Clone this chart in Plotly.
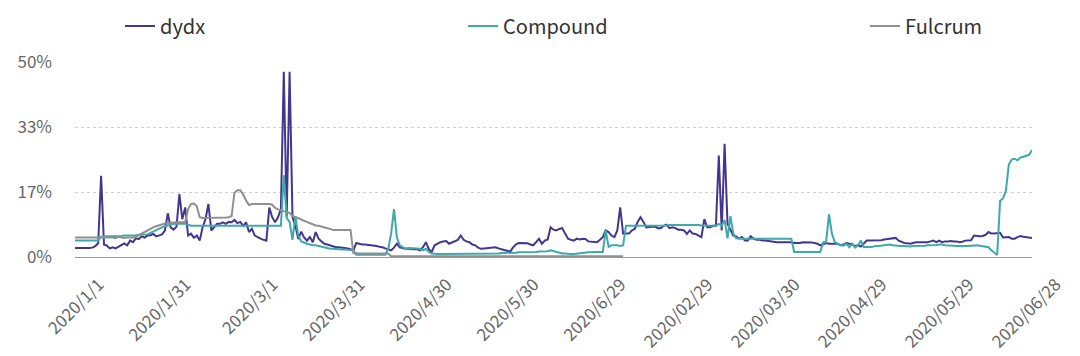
import pandas as pd
import plotly.graph_objects as go

# ---- categories (two concatenated daily periods) ----
period1 = pd.date_range("2020-01-01", "2020-06-29", freq="D")
period2 = pd.date_range("2020-01-31", "2020-06-28", freq="D")
categories = [f"{d.year}/{d.month}/{d.day}" for d in period1] + \
             [d.strftime("%Y/%m/%d") for d in period2]

tick_labels = ["2020/1/1", "2020/1/31", "2020/3/1", "2020/3/31", "2020/4/30",
               "2020/5/30", "2020/6/29", "2020/02/29", "2020/03/30",
               "2020/04/29", "2020/05/29", "2020/06/28"]
tick_index = [0, 30, 60, 90, 120, 150, 180, 210, 240, 270, 300, 330]

y_tick_values = [0, 50 / 3, 100 / 3, 50]
y_tick_labels = ["0%", "17%", "33%", "50%"]

# ---- series values (percent) ----
dydx = [
    2.3, 2.3, 2.3, 2.2, 2.3, 2.3, 2.4, 2.8, 3.5, 20.8,
    3.2, 2.9, 2.2, 2.5, 2.2, 2.7, 3.0, 3.5, 3.0, 4.2,
    3.8, 4.8, 4.6, 5.3, 5.0, 5.5, 5.6, 5.9, 5.3, 5.6,
    5.8, 6.8, 11.2, 7.6, 7.0, 7.8, 16.1, 9.7, 12.7, 5.5,
    6.0, 4.9, 5.5, 4.2, 7.6, 9.7, 13.6, 6.8, 7.6, 8.5,
    8.5, 8.9, 8.5, 9.0, 8.9, 9.5, 8.7, 9.0, 8.0, 8.9,
    6.4, 7.2, 5.5, 5.0, 4.7, 4.4, 4.2, 12.7, 10.2, 8.9,
    10.2, 12.3, 47.5, 10.3, 47.5, 10.2, 8.0, 4.6, 6.5, 5.0,
    4.2, 5.1, 3.8, 6.4, 4.7, 4.0, 3.4, 3.2, 3.0, 2.8,
    2.5, 2.5, 2.4, 2.4, 2.2, 2.0, 1.7, 3.6, 3.4, 3.2,
    3.2, 3.1, 3.0, 3.0, 2.8, 2.6, 2.5, 2.2, 1.9, 1.7,
    2.4, 3.4, 2.5, 2.3, 2.1, 2.1, 2.0, 2.0, 2.0, 1.7,
    2.5, 3.8, 2.0, 1.3, 3.0, 3.5, 3.8, 4.0, 4.1, 3.4,
    3.8, 4.2, 4.4, 5.5, 4.4, 4.0, 3.8, 3.2, 3.0, 2.4,
    2.1, 2.2, 2.3, 2.3, 2.4, 2.5, 2.2, 1.9, 1.8, 1.6,
    1.3, 2.4, 3.2, 3.6, 3.6, 3.6, 3.5, 3.2, 3.0, 3.8,
    4.7, 3.4, 4.2, 4.5, 7.6, 7.0, 6.8, 7.2, 7.4, 6.0,
    4.7, 4.4, 4.2, 4.7, 4.5, 4.7, 4.6, 4.0, 3.9, 3.8,
    3.8, 4.4, 5.1, 6.8, 6.4, 5.5, 5.1, 6.8, 12.7, 6.0,
    6.0, 6.0, 6.8, 7.2, 9.0, 10.2, 9.0, 7.6, 7.7, 7.8,
    7.8, 7.4, 7.4, 8.0, 8.3, 7.4, 7.6, 7.4, 7.0, 7.0,
    6.8, 5.9, 6.8, 6.0, 5.9, 5.5, 5.1, 9.7, 7.6, 7.6,
    8.0, 8.0, 26.0, 6.8, 29.0, 8.5, 6.8, 5.5, 5.3, 4.7,
    5.1, 4.2, 4.2, 5.3, 4.7, 4.4, 4.4, 4.2, 4.2, 4.1,
    4.0, 3.8, 3.8, 3.8, 3.8, 3.8, 3.8, 3.8, 3.6, 3.6,
    3.6, 3.8, 3.8, 3.7, 3.7, 3.6, 3.4, 3.0, 3.4, 3.6,
    3.4, 3.4, 3.4, 3.4, 3.0, 3.2, 3.6, 3.4, 3.2, 2.8,
    3.0, 2.7, 3.4, 4.2, 4.2, 4.2, 4.2, 4.2, 4.3, 4.5,
    4.6, 4.7, 4.9, 4.9, 4.2, 3.8, 3.6, 3.5, 3.4, 3.6,
    3.8, 3.8, 3.8, 3.9, 3.8, 4.0, 4.2, 3.8, 4.2, 3.8,
    4.0, 4.0, 4.1, 4.0, 4.0, 3.8, 3.9, 4.2, 4.2, 4.3,
    5.5, 5.4, 5.3, 5.4, 5.7, 6.4, 6.0, 6.0, 6.1, 6.2,
    5.0, 5.0, 5.1, 4.7, 4.7, 5.1, 5.4, 5.2, 5.1, 5.0, 4.9,
]

compound = [
    4.2, 4.2, 4.2, 4.2, 4.2, 4.2, 4.2, 4.2, 4.2, 5.2,
    5.3, 5.3, 5.3, 5.3, 5.4, 5.4, 5.4, 5.5, 5.5, 5.6,
    5.6, 5.6, 5.7, 5.7, 5.8, 5.8, 6.2, 6.6, 7.0, 7.4,
    7.6, 7.9, 8.1, 8.3, 8.5, 8.5, 8.6, 8.6, 8.5, 8.2,
    8.0, 8.0, 8.0, 8.0, 8.0, 8.0, 8.0, 8.0, 8.0, 8.0,
    8.0, 8.0, 8.0, 8.0, 8.0, 8.0, 8.0, 8.0, 8.0, 8.0,
    8.0, 8.0, 8.0, 8.0, 8.0, 8.0, 8.0, 8.0, 8.0, 8.0,
    8.0, 8.0, 21.0, 10.0, 9.0, 4.4, 10.5, 5.5, 4.0, 3.6,
    3.4, 3.2, 3.0, 3.0, 2.8, 2.6, 2.5, 2.3, 2.1, 2.1,
    2.0, 2.0, 1.9, 1.9, 1.8, 1.7, 1.7, 0.6, 0.6, 0.6,
    0.6, 0.6, 0.6, 0.6, 0.6, 0.6, 0.6, 0.6, 2.0, 6.0,
    12.3, 5.0, 3.0, 2.5, 2.1, 2.3, 2.3, 2.2, 2.2, 2.1,
    1.7, 2.1, 1.3, 0.9, 0.8, 0.8, 0.8, 0.8, 0.8, 0.8,
    0.8, 0.8, 0.8, 0.8, 0.8, 0.8, 0.8, 0.8, 0.8, 0.8,
    0.8, 0.8, 0.8, 0.9, 0.9, 0.9, 0.9, 1.0, 1.0, 1.0,
    1.0, 1.1, 1.1, 1.2, 1.2, 1.2, 1.3, 1.3, 1.3, 1.3,
    1.4, 1.4, 1.4, 1.5, 1.7, 1.5, 1.2, 1.0, 0.9, 0.9,
    0.8, 0.8, 0.8, 0.9, 1.0, 1.0, 1.1, 1.2, 1.2, 1.3,
    1.3, 1.3, 1.3, 6.8, 2.6, 3.0, 3.0, 3.0, 2.8, 3.0,
    8.0, 8.0, 8.0, 8.0, 8.0, 8.0, 8.0, 8.0, 8.0, 8.0,
    8.0, 8.0, 8.1, 8.1, 8.1, 8.2, 8.2, 8.2, 8.3, 8.3,
    8.3, 8.3, 8.3, 8.3, 8.3, 8.2, 8.1, 8.1, 8.0, 8.0,
    8.0, 8.0, 8.5, 8.0, 9.5, 4.8, 10.5, 6.0, 4.8, 4.7,
    4.7, 4.7, 4.7, 4.7, 4.7, 4.7, 4.7, 4.7, 4.7, 4.7,
    4.7, 4.7, 4.7, 4.7, 4.7, 4.7, 4.7, 4.7, 1.3, 1.3,
    1.3, 1.3, 1.3, 1.3, 1.3, 1.3, 1.3, 1.3, 3.8, 3.8,
    11.0, 6.0, 3.8, 3.4, 3.0, 2.9, 3.4, 2.5, 3.4, 2.4,
    3.0, 4.2, 2.5, 2.6, 2.5, 2.6, 2.8, 2.8, 2.9, 2.9,
    3.0, 3.2, 3.0, 2.9, 2.9, 2.8, 2.8, 2.7, 2.7, 2.8,
    2.8, 2.8, 2.9, 2.9, 3.0, 3.0, 3.1, 3.1, 3.2, 3.2,
    3.0, 3.0, 3.0, 2.9, 2.8, 2.8, 2.7, 2.7, 2.8, 2.9,
    3.0, 3.0, 2.9, 2.8, 2.7, 2.5, 1.7, 1.0, 0.5, 14.4,
    15.0, 17.0, 23.7, 25.0, 25.2, 24.8, 25.5, 25.7, 26.0, 26.2, 27.4,
]

fulcrum = [
    5.0, 5.0, 5.0, 5.0, 5.0, 5.0, 5.0, 5.0, 5.0, 5.0,
    5.0, 5.0, 5.0, 5.0, 4.8, 5.2, 5.0, 4.9, 5.0, 5.0,
    5.0, 5.2, 5.6, 6.2, 6.6, 7.0, 7.3, 7.6, 7.9, 8.2,
    8.4, 8.6, 8.7, 8.8, 8.8, 8.9, 8.9, 8.9, 8.9, 12.3,
    13.6, 13.7, 13.0, 10.2, 10.0, 10.0, 10.0, 10.0, 10.0, 10.0,
    10.0, 10.0, 10.1, 10.2, 10.5, 16.5, 17.1, 17.1, 16.0, 14.5,
    13.3, 13.6, 13.6, 13.6, 13.6, 13.6, 13.7, 13.6, 13.4, 12.6,
    12.2, 11.9, 11.7, 11.5, 11.3, 10.5, 10.2, 10.0, 9.6, 9.3,
    9.0, 8.6, 8.4, 8.1, 8.0, 7.8, 7.6, 7.5, 7.2, 6.9,
    6.9, 6.9, 6.9, 6.9, 6.9, 6.9, 1.0, 0.9, 0.9, 0.9,
    0.9, 0.9, 0.9, 0.9, 0.9, 0.9, 0.9, 0.9, 0.9, 0.2,
    0.2, 0.2, 0.2, 0.2, 0.2, 0.2, 0.2, 0.2, 0.2, 0.2,
    0.2, 0.2, 0.2, 0.2, 0.2, 0.2, 0.2, 0.2, 0.2, 0.2,
    0.2, 0.2, 0.2, 0.2, 0.2, 0.2, 0.2, 0.2, 0.2, 0.2,
    0.2, 0.2, 0.2, 0.2, 0.2, 0.2, 0.2, 0.2, 0.2, 0.2,
    0.2, 0.2, 0.2, 0.2, 0.2, 0.2, 0.2, 0.2, 0.2, 0.2,
    0.2, 0.2, 0.2, 0.2, 0.2, 0.2, 0.2, 0.2, 0.2, 0.2,
    0.2, 0.2, 0.2, 0.2, 0.2, 0.2, 0.2, 0.2, 0.2, 0.2,
    0.2, 0.2, 0.2, 0.2, 0.2, 0.2, 0.2, 0.2, 0.2, 0.2,
]

FONT = "Noto Sans CJK SC, Noto Sans, sans-serif"
colors = {"dydx": "#43368f", "Compound": "#3fa8a8", "Fulcrum": "#8f8f8f"}

fig = go.Figure()
fig.add_trace(go.Scatter(x=categories[:len(dydx)], y=dydx, mode="lines", name="dydx",
                         line=dict(color=colors["dydx"], width=2), legend="legend"))
fig.add_trace(go.Scatter(x=categories[:len(compound)], y=compound, mode="lines", name="Compound",
                         line=dict(color=colors["Compound"], width=2), legend="legend2"))
fig.add_trace(go.Scatter(x=categories[:len(fulcrum)], y=fulcrum, mode="lines", name="Fulcrum",
                         line=dict(color=colors["Fulcrum"], width=2), legend="legend3"))

# page has an 8px body margin, so the figure is offset by (8, 8)
L, T = 67, 54
PW, PH = 957, 195
R, B = 1080 - L - PW, 356 - T - PH


def px_x(px):
    return (px - L) / PW


leg_common = dict(font=dict(family=FONT, size=20, color="#333333"),
                  bgcolor="rgba(0,0,0,0)",
                  xanchor="left", yanchor="middle", y=(356 - 18 - B) / PH)
fig.update_layout(
    width=1080, height=356,
    margin=dict(l=L, r=R, t=T, b=B, autoexpand=False),
    paper_bgcolor="white", plot_bgcolor="white",
    font=dict(family=FONT),
    showlegend=True,
    legend=dict(x=px_x(112), **leg_common),
    legend2=dict(x=px_x(455), **leg_common),
    legend3=dict(x=px_x(857), **leg_common),
    xaxis=dict(type="category", range=[0, len(categories) - 1],
               tickmode="array",
               tickvals=[categories[i] for i in tick_index],
               ticktext=tick_labels,
               tickangle=-45, ticklabelshift=24, ticklabelstandoff=10,
               tickfont=dict(family=FONT, size=17, color="#666666"),
               showgrid=False, showline=True, linecolor="#9a9a9a", linewidth=1,
               ticks="", zeroline=False),
    yaxis=dict(range=[0, 50], tickmode="array", tickvals=y_tick_values,
               ticktext=y_tick_labels,
               tickfont=dict(family=FONT, size=17, color="#666666"),
               showgrid=True, gridcolor="#cfcfcf", griddash="dot", gridwidth=1,
               zeroline=False, showline=False, ticks="", ticklabelstandoff=22),
)

fig.write_html("out.html")
